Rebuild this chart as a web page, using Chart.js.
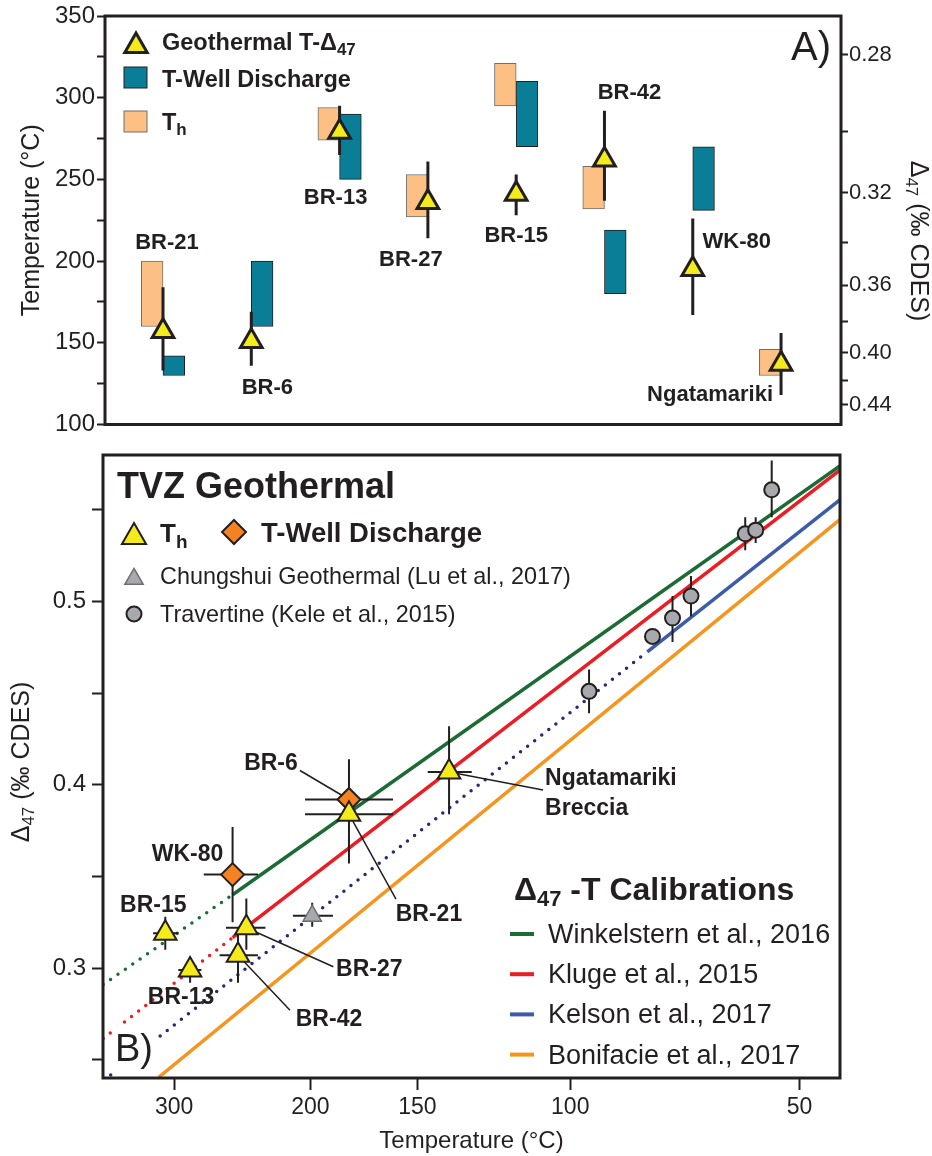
<!DOCTYPE html>
<html>
<head>
<meta charset="utf-8">
<script src="https://cdn.jsdelivr.net/npm/chart.js@4.4.1/dist/chart.umd.min.js"></script>
<style>
  body { margin: 0; background: #fff; }
  #wrap { position: relative; width: 932px; height: 1156px; }
  canvas { position: absolute; left: 0; }
  #chartA { top: 0; }
  #chartB { top: 440px; }
</style>
</head>
<body>
<div id="wrap">
  <canvas id="chartA" width="932" height="440"></canvas>
  <canvas id="chartB" width="932" height="716"></canvas>
</div>
<script>
// Panel A: temperatures per sample
const samplesA = ['BR-21', 'BR-6', 'BR-13', 'BR-27', 'BR-15', 'BR-42', 'WK-80', 'Ngatamariki'];
const d47Temp = [157, 151, 279, 236, 241, 262, 195, 137];
const d47TempLo = [133, 136, 265, 214, 228, 237, 167, 118];
const d47TempHi = [184, 169, 295, 261, 253, 292, 226, 156];
const thLo = [160, null, 274, 227, 295, 232, null, 130];
const thHi = [200, null, 294, 253, 321, 258, null, 146];
const wellLo = [130, 160, 250, null, 270, 180, 231, null];
const wellHi = [142, 200, 290, null, 310, 219, 270, null];

// right axis of panel A (D47 for the same temperature)
const d47AxisTicks = [0.28, 0.30, 0.32, 0.34, 0.36, 0.38, 0.40, 0.42, 0.44];
const d47AxisLabels = ['0.28', '', '0.32', '', '0.36', '', '0.40', '', '0.44'];
const calA = 0.0405, calB = 0.1673;

// Panel B: D47 vs temperature
const thNames = ['BR-15', 'BR-13', 'BR-42', 'BR-27', 'BR-21', 'Ngatamariki Breccia'];
const thT = [309, 285, 246, 240, 180, 138];
const thTLo = [296, 275, 232, 227, 160, 130];
const thTHi = [322, 296, 260, 255, 203, 146];
const thD = [0.319, 0.299, 0.307, 0.322, 0.384, 0.407];
const thDLo = [0.310, 0.292, 0.292, 0.310, 0.357, 0.384];
const thDHi = [0.328, 0.306, 0.319, 0.338, 0.411, 0.432];

const wellNames = ['BR-6', 'WK-80'];
const wellT = [180, 250];
const wellTLo = [160, 232];
const wellTHi = [203, 273];
const wellD = [0.392, 0.351];
const wellDLo = [0.370, 0.325];
const wellDHi = [0.414, 0.377];

const luT = [199], luTLo = [188], luTHi = [210];
const luD = [0.3285], luDLo = [0.3225], luDHi = [0.3357];

const keleT = [95, 79.5, 75, 71, 60, 58, 55];
const keleD = [0.451, 0.481, 0.491, 0.503, 0.537, 0.539, 0.561];
const keleDLo = [0.439, null, 0.478, 0.492, 0.528, 0.532, 0.546];
const keleDHi = [0.463, null, 0.503, 0.514, 0.546, 0.546, 0.577];

// calibration lines (solid part and dotted extrapolation)
const winkT = [250, 43.1], winkD = [0.340, 0.574];
const winkExtT = [386, 250], winkExtD = [0.291, 0.340];
const klugeT = [250, 43.1], klugeD = [0.3166, 0.5717];
const klugeExtT = [386, 250], klugeExtD = [0.2615, 0.3166];
const kelsonT = [80.7, 43.1], kelsonD = [0.4726, 0.5555];
const kelsonExtT = [375, 80.7], kelsonExtD = [0.2416, 0.4726];
const boniT = [316, 43.1], boniD = [0.2404, 0.5447];

const xTicksT = [300, 200, 150, 100, 50];
const yTicksB = [0.25, 0.30, 0.35, 0.40, 0.45, 0.50, 0.55];
const yLabelsB = ['', '0.3', '', '0.4', '', '0.5', ''];

const FONT = "'Liberation Sans', Arial, Helvetica, sans-serif";
const INK = '#231F20';
const YELLOW = '#F4EC1A';
const TEAL = '#0A7E96';
const PEACH = '#FCBF84';
const GREEN = '#1C6B34';
const RED = '#ED1C24';
const BLUE = '#3C5BA9';
const NAVY = '#262A6E';
const ORANGE = '#F7941D';
const GREY = '#A7A9AC';

const f = (size, bold) => (bold ? 'bold ' : '') + size + 'px ' + FONT;
const toV = t => 1e6 / Math.pow(t + 273.15, 2);
const tempFromD47 = d => Math.sqrt(calA * 1e6 / (d - calB)) - 273.15;

// text with subscripts
function rich(ctx, x, y, parts, align) {
  ctx.textAlign = 'left';
  let w = 0;
  parts.forEach(p => { ctx.font = p.f; w += ctx.measureText(p.t).width; });
  let cx = align === 'center' ? x - w / 2 : x;
  parts.forEach(p => {
    ctx.font = p.f;
    ctx.fillText(p.t, cx, y + (p.dy || 0));
    cx += ctx.measureText(p.t).width;
  });
}

function triPath(ctx, x, y, r) {
  ctx.beginPath();
  for (let k = 0; k < 3; k++) {
    const a = k * 2 * Math.PI / 3;
    ctx.lineTo(x + Math.sin(a) * r, y - Math.cos(a) * r);
  }
  ctx.closePath();
}

// ---------- Panel A ----------
const thData = samplesA.map((s, i) => thLo[i] == null ? null : {x: i, y: [thLo[i], thHi[i]]}).filter(Boolean);
const wellData = samplesA.map((s, i) => wellLo[i] == null ? null : {x: i, y: [wellLo[i], wellHi[i]]}).filter(Boolean);
const triData = samplesA.map((s, i) => ({x: i, y: d47Temp[i]}));

// label offsets from each triangle (pixels)
const labelOffsetsA = [[4, -88], [16, 47], [-4, 66], [-17, 58], [0, 42], [25, -67], [44, -27], [-71, 31]];

const panelAPlugin = {
  id: 'panelA',
  beforeDatasetDraw(chart, args) {
    if (args.index !== 2) return;
    const ctx = chart.ctx, xs = chart.scales.x, ys = chart.scales.y;
    ctx.save();
    ctx.strokeStyle = INK;
    ctx.lineWidth = 3;
    ctx.beginPath();
    samplesA.forEach((s, i) => {
      const px = xs.getPixelForValue(i);
      ctx.moveTo(px, ys.getPixelForValue(d47TempLo[i]));
      ctx.lineTo(px, ys.getPixelForValue(d47TempHi[i]));
    });
    ctx.stroke();
    ctx.restore();
  },
  afterDraw(chart) {
    const ctx = chart.ctx, a = chart.chartArea, xs = chart.scales.x, ys = chart.scales.y;
    ctx.save();
    ctx.strokeStyle = INK;
    ctx.lineWidth = 3;
    ctx.strokeRect(a.left, a.top, a.right - a.left, a.bottom - a.top);

    ctx.fillStyle = INK;
    ctx.textBaseline = 'middle';
    ctx.textAlign = 'center';
    ctx.font = f(22, true);
    samplesA.forEach((s, i) => {
      const px = xs.getPixelForValue(i), py = ys.getPixelForValue(d47Temp[i]);
      ctx.fillText(s, px + labelOffsetsA[i][0], py + labelOffsetsA[i][1]);
    });

    // legend
    triPath(ctx, 136, 46, 12.9);
    ctx.fillStyle = YELLOW; ctx.fill();
    ctx.lineWidth = 3; ctx.strokeStyle = INK; ctx.stroke();
    ctx.fillStyle = TEAL; ctx.fillRect(124, 67, 23, 21);
    ctx.lineWidth = 1; ctx.strokeRect(124, 67, 23, 21);
    ctx.fillStyle = PEACH; ctx.fillRect(124, 111, 23, 21);
    ctx.strokeStyle = '#6D6E71'; ctx.strokeRect(124, 111, 23, 21);

    ctx.fillStyle = INK;
    ctx.textBaseline = 'alphabetic';
    rich(ctx, 162, 50, [{t: 'Geothermal T-\u0394', f: f(23.5, true)}, {t: '47', f: f(17, true), dy: 5}]);
    rich(ctx, 162, 87, [{t: 'T-Well Discharge', f: f(23.5, true)}]);
    rich(ctx, 162, 130, [{t: 'T', f: f(23.5, true)}, {t: 'h', f: f(17, true), dy: 5}]);

    ctx.font = f(40, false);
    ctx.fillText('A)', 791, 60);

    // right axis title
    ctx.translate(918, 241);
    ctx.rotate(Math.PI / 2);
    ctx.textBaseline = 'middle';
    rich(ctx, 0, 0, [{t: '\u0394', f: f(25)}, {t: '47', f: f(17), dy: 7}, {t: ' (\u2030 CDES)', f: f(25)}], 'center');
    ctx.restore();
  }
};

new Chart(document.getElementById('chartA'), {
  type: 'bar',
  data: {
    datasets: [
      {label: 'Th', data: thData, backgroundColor: PEACH, borderColor: '#6D6E71', borderWidth: 1,
       borderSkipped: false, barThickness: 21.7, order: 2},
      {label: 'T-Well Discharge', data: wellData, backgroundColor: TEAL, borderColor: INK, borderWidth: 1,
       borderSkipped: false, barThickness: 21.7, order: 2},
      {label: 'Geothermal T-\u039447', type: 'line', data: triData, showLine: false, pointStyle: 'triangle',
       pointRadius: 12.5, pointBackgroundColor: YELLOW, pointBorderColor: INK, pointBorderWidth: 3, order: 1}
    ]
  },
  options: {
    responsive: false,
    animation: false,
    events: [],
    layout: {padding: {top: 16, bottom: 13, left: 0, right: 0}},
    plugins: {legend: {display: false}, tooltip: {enabled: false}},
    scales: {
      x: {type: 'linear', min: -0.657, max: 7.679, display: false, offset: false},
      y: {
        min: 100, max: 350,
        afterFit: s => { s.width = 105; s.paddingTop = 0; s.paddingBottom = 0; },
        ticks: {stepSize: 25, padding: 2, color: INK, font: {family: FONT, size: 24},
                callback: v => v % 50 === 0 ? v : ''},
        grid: {drawOnChartArea: false, tickLength: 8, tickWidth: 2, tickColor: INK},
        border: {display: false},
        title: {display: true, text: 'Temperature (\u00B0C)', color: INK, font: {family: FONT, size: 25},
                padding: {top: 17, bottom: 0}}
      },
      y2: {
        position: 'right', min: 100, max: 350,
        afterFit: s => { s.width = 91; s.paddingTop = 0; s.paddingBottom = 0; },
        afterBuildTicks: s => { s.ticks = d47AxisTicks.map(d => ({value: tempFromD47(d)})); },
        ticks: {autoSkip: false, padding: 1, color: INK, font: {family: FONT, size: 22},
                callback: (v, i) => d47AxisLabels[i]},
        grid: {drawOnChartArea: false, tickLength: 7, tickWidth: 2, tickColor: INK},
        border: {display: false}
      }
    }
  },
  plugins: [panelAPlugin]
});

// ---------- Panel B ----------
const pts = (ts, ds) => ts.map((t, i) => ({x: toV(t), y: ds[i]}));
function calLine(label, ts, ds, color, dotted) {
  return {label: label, data: pts(ts, ds), showLine: true, borderColor: color, borderWidth: 3.5,
          borderDash: dotted ? [0, 9] : [], borderCapStyle: dotted ? 'round' : 'butt',
          pointRadius: 0, order: 10};
}

// label placement relative to the marker (pixels)
const labelsB = [
  {text: 'BR-6', set: 'well', i: 0, dx: -78, dy: -36, lead: [-49, -29]},
  {text: 'WK-80', set: 'well', i: 1, dx: -45, dy: -20},
  {text: 'BR-15', set: 'th', i: 0, dx: -12, dy: -28},
  {text: 'BR-13', set: 'th', i: 1, dx: -9, dy: 28},
  {text: 'BR-42', set: 'th', i: 2, dx: 91, dy: 64, lead: [52, 55]},
  {text: 'BR-27', set: 'th', i: 3, dx: 123, dy: 42, lead: [87, 39]},
  {text: 'BR-21', set: 'th', i: 4, dx: 80, dy: 101, lead: [47, 85]},
  {text: 'Ngatamariki', set: 'th', i: 5, dx: 96, dy: 7, left: true, lead: [94, 18]},
  {text: 'Breccia', set: 'th', i: 5, dx: 96, dy: 37, left: true}
];

const calLegend = [
  ['Winkelstern et al., 2016', GREEN],
  ['Kluge et al., 2015', RED],
  ['Kelson et al., 2017', BLUE],
  ['Bonifacie et al., 2017', ORANGE]
];

const panelBPlugin = {
  id: 'panelB',
  beforeDatasetDraw(chart, args) {
    if (args.index !== 7) return;
    const ctx = chart.ctx, xs = chart.scales.x, ys = chart.scales.y;
    const X = t => xs.getPixelForValue(toV(t)), Y = d => ys.getPixelForValue(d);
    ctx.save();
    ctx.strokeStyle = INK;
    ctx.lineWidth = 2;
    ctx.beginPath();
    const cross = (T, TLo, THi, D, DLo, DHi) => {
      T.forEach((t, i) => {
        ctx.moveTo(X(t), Y(DLo[i])); ctx.lineTo(X(t), Y(DHi[i]));
        ctx.moveTo(X(TLo[i]), Y(D[i])); ctx.lineTo(X(THi[i]), Y(D[i]));
      });
    };
    cross(thT, thTLo, thTHi, thD, thDLo, thDHi);
    cross(wellT, wellTLo, wellTHi, wellD, wellDLo, wellDHi);
    cross(luT, luTLo, luTHi, luD, luDLo, luDHi);
    keleT.forEach((t, i) => {
      if (keleDLo[i] == null) return;
      ctx.moveTo(X(t), Y(keleDLo[i])); ctx.lineTo(X(t), Y(keleDHi[i]));
    });
    ctx.stroke();

    ctx.lineWidth = 1.5;
    ctx.beginPath();
    labelsB.forEach(l => {
      if (!l.lead) return;
      const T = l.set === 'th' ? thT : wellT, D = l.set === 'th' ? thD : wellD;
      const px = X(T[l.i]), py = Y(D[l.i]);
      ctx.moveTo(px, py); ctx.lineTo(px + l.lead[0], py + l.lead[1]);
    });
    ctx.stroke();
    ctx.restore();
  },
  afterDraw(chart) {
    const ctx = chart.ctx, a = chart.chartArea, xs = chart.scales.x, ys = chart.scales.y;
    const X = t => xs.getPixelForValue(toV(t)), Y = d => ys.getPixelForValue(d);
    const top = 440; // canvas offset on the page
    ctx.save();
    ctx.strokeStyle = INK;
    ctx.lineWidth = 3;
    ctx.strokeRect(a.left, a.top, a.right - a.left, a.bottom - a.top);

    ctx.fillStyle = INK;
    ctx.textBaseline = 'middle';
    ctx.font = f(23, true);
    labelsB.forEach(l => {
      const T = l.set === 'th' ? thT : wellT, D = l.set === 'th' ? thD : wellD;
      ctx.textAlign = l.left ? 'left' : 'center';
      ctx.fillText(l.text, X(T[l.i]) + l.dx, Y(D[l.i]) + l.dy);
    });

    // B) with white background
    ctx.fillStyle = '#fff';
    ctx.fillRect(112, 1026 - top, 44, 46);
    ctx.fillStyle = INK;
    ctx.textAlign = 'left';
    ctx.textBaseline = 'alphabetic';
    ctx.font = f(38, false);
    ctx.fillText('B)', 115, 1061 - top);

    // legend (upper left)
    ctx.font = f(36, true);
    ctx.fillText('TVZ Geothermal', 117, 498 - top);
    triPath(ctx, 134, 537 - top, 13.9);
    ctx.fillStyle = YELLOW; ctx.fill();
    ctx.lineWidth = 2; ctx.strokeStyle = INK; ctx.stroke();
    ctx.beginPath();
    const dx = 234, dy = 532 - top, r = 12;
    ctx.moveTo(dx, dy - r); ctx.lineTo(dx + r, dy); ctx.lineTo(dx, dy + r); ctx.lineTo(dx - r, dy); ctx.closePath();
    ctx.fillStyle = '#F58220'; ctx.fill(); ctx.stroke();
    triPath(ctx, 134, 579 - top, 10.6);
    ctx.fillStyle = GREY; ctx.fill();
    ctx.lineWidth = 1.5; ctx.strokeStyle = '#6D6E71'; ctx.stroke();
    ctx.beginPath();
    ctx.arc(134, 614 - top, 7.5, 0, Math.PI * 2);
    ctx.fillStyle = GREY; ctx.fill();
    ctx.lineWidth = 2; ctx.strokeStyle = INK; ctx.stroke();

    ctx.fillStyle = INK;
    rich(ctx, 160, 542 - top, [{t: 'T', f: f(26, true)}, {t: 'h', f: f(19, true), dy: 6}]);
    rich(ctx, 261, 542 - top, [{t: 'T-Well Discharge', f: f(27.5, true)}]);
    rich(ctx, 160, 584 - top, [{t: 'Chungshui Geothermal (Lu et al., 2017)', f: f(23.4)}]);
    rich(ctx, 160, 622 - top, [{t: 'Travertine (Kele et al., 2015)', f: f(23.4)}]);

    // calibration legend
    rich(ctx, 514, 900 - top, [{t: '\u0394', f: f(32, true)}, {t: '47', f: f(22, true), dy: 6},
                               {t: ' -T Calibrations', f: f(32, true)}]);
    calLegend.forEach((c, k) => {
      const yy = 934 + k * 40.2 - top;
      ctx.strokeStyle = c[1]; ctx.lineWidth = 4;
      ctx.beginPath(); ctx.moveTo(510, yy); ctx.lineTo(534, yy); ctx.stroke();
      rich(ctx, 548, yy + 9, [{t: c[0], f: f(27)}]);
    });

    // y axis title
    ctx.translate(22, 762 - top);
    ctx.rotate(-Math.PI / 2);
    ctx.textBaseline = 'middle';
    rich(ctx, 0, 0, [{t: '\u0394', f: f(25)}, {t: '47', f: f(17), dy: 7}, {t: ' (\u2030 CDES)', f: f(25)}], 'center');
    ctx.restore();
  }
};

new Chart(document.getElementById('chartB'), {
  type: 'scatter',
  data: {
    datasets: [
      calLine('Winkelstern et al., 2016 (extrapolated)', winkExtT, winkExtD, GREEN, true),
      calLine('Winkelstern et al., 2016', winkT, winkD, GREEN, false),
      calLine('Kluge et al., 2015 (extrapolated)', klugeExtT, klugeExtD, RED, true),
      calLine('Kluge et al., 2015', klugeT, klugeD, RED, false),
      calLine('Kelson et al., 2017 (extrapolated)', kelsonExtT, kelsonExtD, NAVY, true),
      calLine('Kelson et al., 2017', kelsonT, kelsonD, BLUE, false),
      calLine('Bonifacie et al., 2017', boniT, boniD, ORANGE, false),
      {label: 'Travertine (Kele et al., 2015)', data: pts(keleT, keleD), pointStyle: 'circle', pointRadius: 7.5,
       pointBackgroundColor: GREY, pointBorderColor: INK, pointBorderWidth: 2, order: 5},
      {label: 'Chungshui Geothermal (Lu et al., 2017)', data: pts(luT, luD), pointStyle: 'triangle', pointRadius: 10.6,
       pointBackgroundColor: GREY, pointBorderColor: '#6D6E71', pointBorderWidth: 1.5, order: 4},
      {label: 'T-Well Discharge', data: pts(wellT, wellD), pointStyle: 'rectRot', pointRadius: 11.5,
       pointBackgroundColor: '#F58220', pointBorderColor: INK, pointBorderWidth: 2, order: 3},
      {label: 'Th', data: pts(thT, thD), pointStyle: 'triangle', pointRadius: 13,
       pointBackgroundColor: YELLOW, pointBorderColor: INK, pointBorderWidth: 2, order: 2}
    ]
  },
  options: {
    responsive: false,
    animation: false,
    events: [],
    layout: {padding: {top: 10, bottom: 0, left: 0, right: 92}},
    plugins: {legend: {display: false}, tooltip: {enabled: false}},
    scales: {
      x: {
        type: 'linear', min: 2.3, max: 10,
        afterFit: s => { s.height = 78; s.paddingLeft = 0; s.paddingRight = 0; },
        afterBuildTicks: s => { s.ticks = xTicksT.map(t => ({value: toV(t)})); },
        ticks: {autoSkip: false, maxRotation: 0, padding: 4, color: INK, font: {family: FONT, size: 23},
                callback: (v, i) => xTicksT[i]},
        grid: {drawOnChartArea: false, tickLength: 12, tickWidth: 2, tickColor: INK},
        border: {display: false},
        title: {display: true, text: 'Temperature (\u00B0C)', color: INK, font: {family: FONT, size: 24},
                padding: {top: 0, bottom: 0}}
      },
      y: {
        min: 0.24, max: 0.58,
        afterFit: s => { s.width = 103; s.paddingTop = 0; s.paddingBottom = 0; },
        afterBuildTicks: s => { s.ticks = yTicksB.map(v => ({value: v})); },
        ticks: {autoSkip: false, padding: 6, color: INK, font: {family: FONT, size: 24},
                callback: (v, i) => yLabelsB[i]},
        grid: {drawOnChartArea: false, tickLength: 11, tickWidth: 2, tickColor: INK},
        border: {display: false}
      }
    }
  },
  plugins: [panelBPlugin]
});
</script>
</body>
</html>
